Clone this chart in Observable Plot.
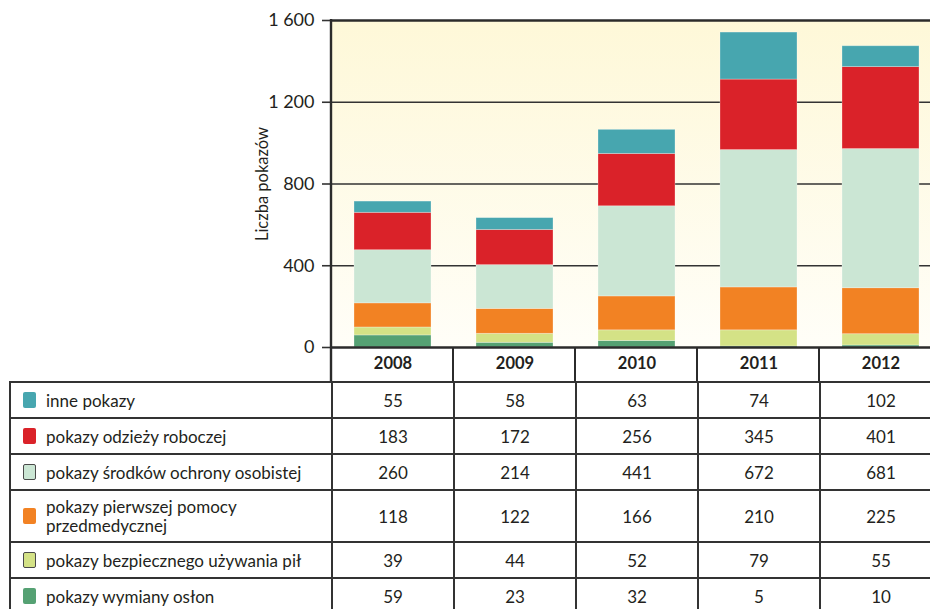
<!DOCTYPE html>
<html><head><meta charset="utf-8">
<script src="https://cdn.jsdelivr.net/npm/d3@7"></script>
<script src="https://cdn.jsdelivr.net/npm/@observablehq/plot@0.6"></script>
<style>
html,body{margin:0;padding:0;background:#fff;overflow:hidden;width:930px;height:609px;}
#wrap{position:relative;width:930px;height:609px;overflow:hidden;font-family:Lato,sans-serif;color:#231f20;}
#chart{position:absolute;left:0;top:0;width:945px;}
#chart svg{max-width:none !important;}
#tbl{position:absolute;left:9px;top:381px;width:932px;border-collapse:collapse;table-layout:fixed;font-family:Lato,sans-serif;font-size:17px;color:#231f20;}
#tbl td{border:2px solid #333;padding:0;text-align:center;vertical-align:middle;line-height:19px;}
#tbl tr:first-child td{border-top:3px solid #222;}
#tbl td.lab{text-align:left;padding-left:12px;}
#tbl .sw{display:inline-block;flex:none;width:13px;height:16px;border-radius:2px;box-sizing:border-box;margin-right:10px;}
#tbl .lw{display:flex;align-items:center;}
</style></head>
<body><div id="wrap"><div id="chart"></div><table id="tbl"></table></div>
<script>
// ---- data (table order, top to bottom) ----
const years = ["2008", "2009", "2010", "2011", "2012"];
const seriesNames = [
  "inne pokazy",
  "pokazy odzieży roboczej",
  "pokazy środków ochrony osobistej",
  "pokazy pierwszej pomocy przedmedycznej",
  "pokazy bezpiecznego używania pił",
  "pokazy wymiany osłon"
];
const seriesColors = ["#47a6af", "#da2229", "#cbe6d4", "#f28223", "#d4e286", "#55a173"];
const lightSwatch = [false, false, true, false, true, false];
const inne = [55, 58, 63, 74, 102];
const odziez = [183, 172, 256, 345, 401];
const srodki = [260, 214, 441, 672, 681];
const pierwsza = [118, 122, 166, 210, 225];
const pily = [39, 44, 52, 79, 55];
const oslony = [59, 23, 32, 5, 10];
// heights of the "inne pokazy" bar segments as drawn in the picture (2010, 2011 drawn taller than the table values)
const inneBars = [55, 58, 118, 230, 102];
const yTicks = [0, 400, 800, 1200, 1600];
const gridTicks = [400, 800, 1200];

// ---- build stacked data (bottom -> top) ----
const tableValues = [inne, odziez, srodki, pierwsza, pily, oslony];
const barValues = [inneBars, odziez, srodki, pierwsza, pily, oslony];
const stackIdx = [5, 4, 3, 2, 1, 0];
const barData = [];
for (const si of stackIdx) {
  years.forEach((y, i) => barData.push({year: y, series: seriesNames[si], value: barValues[si][i]}));
}

const W = 945, H = 382, ML = 331, MR = 4, MT = 20, MB = 35;
const fmt = d => d3.format(",")(d).replace(/,/g, " ");

const background = (index, scales, values, dims) => {
  const g = d3.create("svg:g");
  const lg = g.append("defs").append("linearGradient").attr("id", "bggrad")
    .attr("x1", 0).attr("y1", 0).attr("x2", 0).attr("y2", 1);
  lg.append("stop").attr("offset", "0%").attr("stop-color", "#fef8d8");
  lg.append("stop").attr("offset", "100%").attr("stop-color", "#fffef8");
  g.append("rect")
    .attr("x", dims.marginLeft).attr("y", dims.marginTop)
    .attr("width", dims.width - dims.marginLeft - dims.marginRight)
    .attr("height", dims.height - dims.marginTop - dims.marginBottom)
    .attr("fill", "url(#bggrad)");
  return g.node();
};

const borders = (index, scales, values, dims) => {
  const g = d3.create("svg:g").attr("stroke", "#2b2b2b");
  const step = (dims.width - dims.marginLeft - dims.marginRight) / years.length;
  const y0 = dims.height - dims.marginBottom;
  g.append("line").attr("x1", dims.marginLeft).attr("x2", dims.marginLeft)
    .attr("y1", dims.marginTop - 1).attr("y2", dims.height).attr("stroke-width", 2.4);
  for (let i = 1; i <= years.length; i++) {
    const x = dims.marginLeft + i * step;
    g.append("line").attr("x1", x).attr("x2", x).attr("y1", y0).attr("y2", dims.height).attr("stroke-width", 2);
  }
  return g.node();
};

const plot = Plot.plot({
  width: W, height: H,
  marginLeft: ML, marginRight: MR, marginTop: MT, marginBottom: MB,
  style: {fontFamily: "Lato, sans-serif", fontSize: "17px", color: "#231f20", background: "transparent", overflow: "visible", maxWidth: "none"},
  x: {domain: years, paddingInner: 0.37, paddingOuter: 0.185, label: null},
  y: {domain: [0, 1600], label: null},
  color: {domain: seriesNames, range: seriesColors},
  marks: [
    background,
    Plot.ruleY(gridTicks, {stroke: "#333", strokeWidth: 1.6}),
    Plot.barY(barData, {x: "year", y: "value", fill: "series", stroke: "#ffffff", strokeOpacity: 0.35, strokeWidth: 0.8}),
    Plot.ruleY([0, 1600], {stroke: "#2b2b2b", strokeWidth: 2.6}),
    Plot.axisY({ticks: yTicks, tickSize: 9, tickPadding: 8, tickFormat: fmt, label: null, stroke: "#333", strokeWidth: 1.6, fontSize: 18}),
    Plot.axisX({tickSize: 0, tickPadding: 10, fontWeight: "bold", fontSize: 16.5, label: null}),
    Plot.text(["Liczba pokazów"], {frameAnchor: "left", textAnchor: "middle", dx: -69, rotate: -90, fontSize: 16.5, fill: "#231f20"}),
    borders
  ]
});
document.getElementById("chart").appendChild(plot);

// ---- data table ----
const tbl = document.getElementById("tbl");
const cg = document.createElement("colgroup");
[322, 122, 122, 122, 122, 122].forEach(w => {
  const c = document.createElement("col"); c.style.width = w + "px"; cg.appendChild(c);
});
tbl.appendChild(cg);
const rowH = [36, 36, 36, 52, 36, 36];
seriesNames.forEach((name, si) => {
  const tr = document.createElement("tr");
  tr.style.height = rowH[si] + "px";
  const lab = document.createElement("td");
  lab.className = "lab";
  const wrap = document.createElement("div"); wrap.className = "lw";
  const sw = document.createElement("span"); sw.className = "sw";
  sw.style.background = seriesColors[si];
  if (lightSwatch[si]) sw.style.border = "1px solid #4a4a4a";
  const txt = document.createElement("span");
  txt.innerHTML = si === 3 ? "pokazy pierwszej pomocy<br>przedmedycznej" : name;
  wrap.appendChild(sw); wrap.appendChild(txt);
  lab.appendChild(wrap);
  tr.appendChild(lab);
  tableValues[si].forEach(v => {
    const td = document.createElement("td"); td.textContent = v; tr.appendChild(td);
  });
  tbl.appendChild(tr);
});
</script>
</body></html>
